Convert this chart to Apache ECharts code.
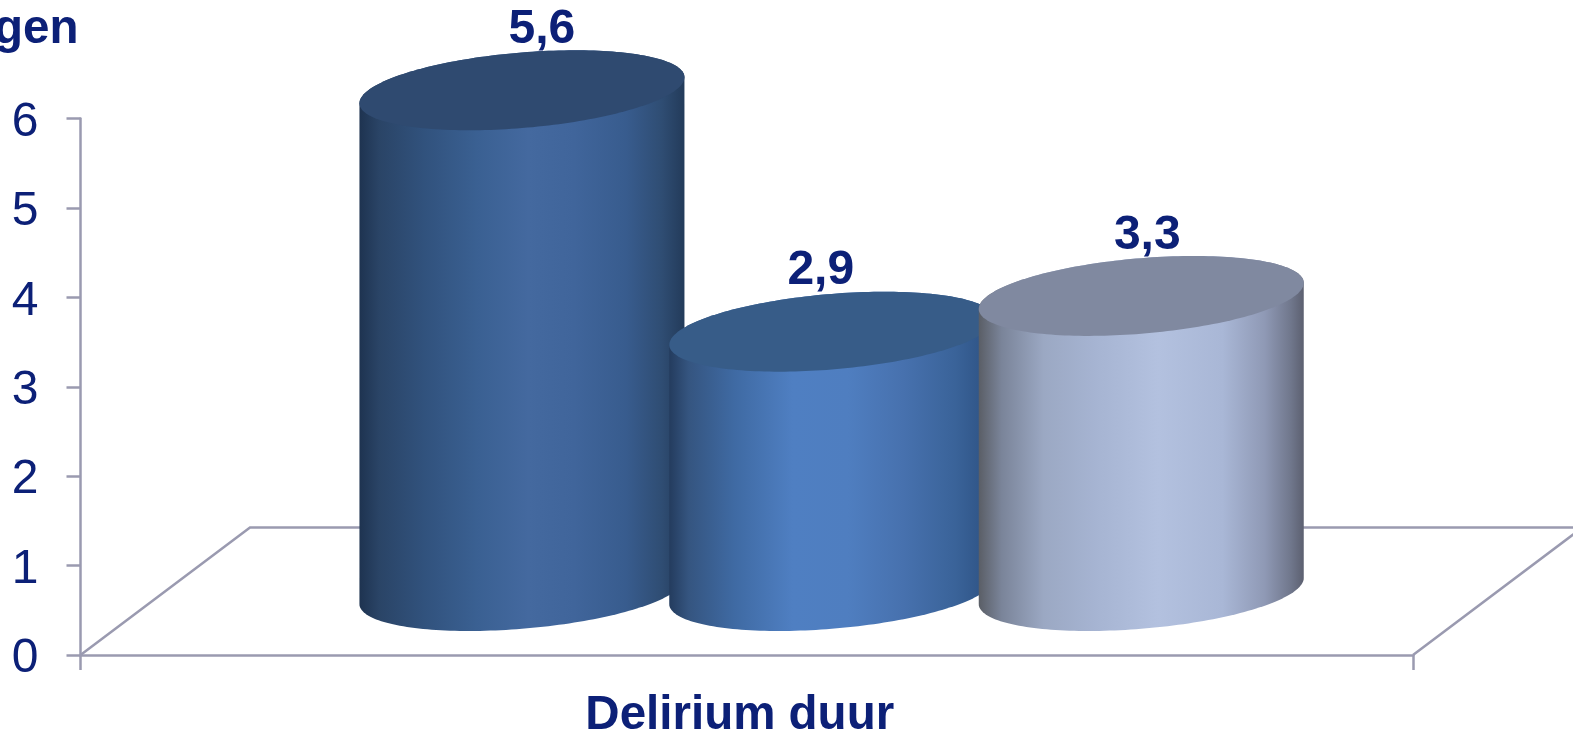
<!DOCTYPE html>
<html>
<head>
<meta charset="utf-8">
<style>html,body{margin:0;padding:0;background:#fff;overflow:hidden}#c{width:1573px;height:734px}</style>
<script src="https://cdn.jsdelivr.net/npm/echarts@6/dist/echarts.min.js"></script>
</head>
<body>
<div id="c"></div>
<script>
const categories = ['Delirium duur'];
const seriesValues = [5.6, 2.9, 3.3];
const valueLabels = ['5,6', '2,9', '3,3'];
const yTicks = { min: 0, max: 6, interval: 1 };
const yName = 'dagen';

const INK = '#0c2077';
const AXIS = '#9a9ab0';
const FONT = '"Liberation Sans", Arial, sans-serif';

/* 3D look of the drawing: cluster spacing, cylinder shape, floor depth */
const look = {
  centerShift: [-224.8, 85, 394.5],
  labelShift: [20, -11, 6],
  rx: 162.5, ry: 37.8, shear: 13, lift: 64, labelRise: 60.5,
  depthX: 169.5, depthY: 127.5
};
const skins = [
  { top: '#2f4a70', stops: [[0,'#1e3350'],[0.06,'#2a4466'],[0.2,'#31527d'],[0.36,'#3a6092'],[0.52,'#44699f'],[0.66,'#40659b'],[0.82,'#385c8e'],[0.93,'#2f4d73'],[1,'#233b5a']] },
  { top: '#375c88', stops: [[0,'#243c5e'],[0.06,'#355580'],[0.2,'#3f6aa3'],[0.38,'#4f7fc2'],[0.55,'#4f7ec0'],[0.72,'#4771ae'],[0.88,'#3a6399'],[1,'#2b4f80']] },
  { top: '#8089a0', stops: [[0,'#5a5e66'],[0.07,'#7a8499'],[0.2,'#9ba8c3'],[0.36,'#a6b4d2'],[0.55,'#b3c1df'],[0.75,'#a9b7d6'],[0.88,'#8f99b5'],[0.96,'#70778c'],[1,'#5c6070']] }
];

function ellipsePoint(cx, cy, t) {
  return [cx + look.rx * Math.cos(t), cy - look.shear * Math.cos(t) + look.ry * Math.sin(t)];
}
function cylinderItem(idx) {
  return function (params, api) {
    const top = api.coord([api.value(0), api.value(1)]);
    const base = api.coord([api.value(0), 0]);
    const cx = top[0] + look.centerShift[idx];
    const yTop = top[1] - look.lift;
    const yBase = base[1] - look.lift;
    const N = 96;
    const body = [];
    for (let i = 0; i <= N; i++) body.push(ellipsePoint(cx, yBase, Math.PI * i / N));
    for (let i = 0; i <= N; i++) body.push(ellipsePoint(cx, yTop, Math.PI + Math.PI * i / N));
    const cap = [];
    for (let i = 0; i < N * 2; i++) cap.push(ellipsePoint(cx, yTop, Math.PI * i / N));
    return {
      type: 'group',
      children: [
        { type: 'polygon', shape: { points: body }, style: { fill: {
            type: 'linear', x: 0, y: 0, x2: 1, y2: 0,
            colorStops: skins[idx].stops.map(s => ({ offset: s[0], color: s[1] }))
          } } },
        { type: 'polygon', shape: { points: cap }, style: { fill: skins[idx].top } },
        { type: 'text', style: {
            text: valueLabels[idx], x: cx + look.labelShift[idx], y: yTop - look.labelRise,
            align: 'center', verticalAlign: 'middle', fill: INK,
            font: 'bold 48px ' + FONT
          } }
      ]
    };
  };
}

const chart = echarts.init(document.getElementById('c'));
const g = { left: 80.5, right: 160, top: 118.5, bottom: 79, outerBoundsMode: 'none' };
const x0 = g.left, x1 = 1573 - g.right, y0 = 734 - g.bottom;

chart.setOption({
  animation: false,
  backgroundColor: '#fff',
  grid: g,
  xAxis: {
    type: 'category', data: categories,
    axisLine: { lineStyle: { color: AXIS, width: 2.5 } },
    axisTick: { show: true, length: 15, lineStyle: { color: AXIS, width: 2.5 } },
    axisLabel: { color: INK, fontFamily: FONT, fontWeight: 'bold', fontSize: 47.5, margin: 37, padding: [0, 14, 0, 0] }
  },
  yAxis: {
    type: 'value', min: yTicks.min, max: yTicks.max, interval: yTicks.interval,
    name: yName, nameLocation: 'end', nameGap: 89,
    nameTextStyle: { color: INK, fontFamily: FONT, fontWeight: 'bold', fontSize: 47.5, align: 'right', verticalAlign: 'middle', padding: [0, 2, 0, 0] },
    splitLine: { show: false },
    axisLine: { show: true, lineStyle: { color: AXIS, width: 2.5 } },
    axisTick: { show: true, length: 14, lineStyle: { color: AXIS, width: 2.5 } },
    axisLabel: { color: INK, fontFamily: FONT, fontSize: 48, margin: 42, verticalAlign: 'top', lineHeight: 8 }
  },
  graphic: [{
    type: 'polyline', silent: true, z: 0,
    shape: { points: [[x0, y0], [x0 + look.depthX, y0 - look.depthY], [x1 + look.depthX, y0 - look.depthY], [x1, y0]] },
    style: { stroke: AXIS, lineWidth: 2.5, fill: null }
  }],
  series: seriesValues.map((v, i) => ({
    type: 'custom', name: 's' + i, z: 5 + i, clip: false,
    coordinateSystem: 'cartesian2d',
    renderItem: cylinderItem(i),
    encode: { x: 0, y: 1 },
    data: [[0, v]]
  }))
});
</script>
</body>
</html>
